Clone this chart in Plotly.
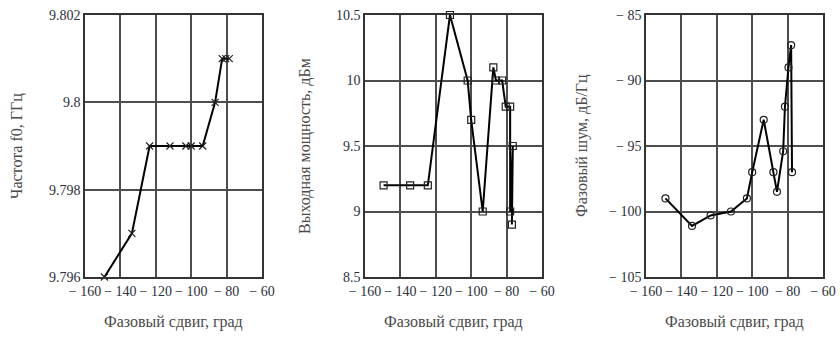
import plotly.graph_objects as go

# ---- data ----
phase_freq = [-149, -133.5, -123.5, -112, -103, -100, -93.5, -86.5, -82.5, -80.5, -78.5]
freq_ghz = [9.796, 9.797, 9.799, 9.799, 9.799, 9.799, 9.799, 9.800, 9.801, 9.801, 9.801]

phase_pow = [-149.5, -134.5, -124.5, -112, -102, -100, -93.5, -87.5, -86, -82.5, -80.5, -78, -78, -76.5, -77]
power_dbm = [9.2, 9.2, 9.2, 10.5, 10.0, 9.7, 9.0, 10.1, 10.0, 10.0, 9.8, 9.8, 9.0, 9.5, 8.9]

phase_noise_x = [-149, -134, -123.5, -112, -103, -100, -93.5, -88, -86, -82.5, -81.5, -79.5, -78, -77.5]
phase_noise = [-99, -101.1, -100.3, -100, -99, -97, -93, -97, -98.5, -95.4, -92, -89, -87.3, -97]

x_ticks = [-160, -140, -120, -100, -80, -60]
x_ticktext = ["− 160", "− 140", "− 120", "− 100", "− 80", "− 60"]

y1_ticks = [9.796, 9.798, 9.8, 9.802]
y1_text = ["9.796", "9.798", "9.8", "9.802"]
y2_ticks = [8.5, 9, 9.5, 10, 10.5]
y2_text = ["8.5", "9", "9.5", "10", "10.5"]
y3_ticks = [-105, -100, -95, -90, -85]
y3_text = ["− 105", "− 100", "− 95", "− 90", "− 85"]

x_title = "Фазовый сдвиг, град"
y_titles = ["Частота f0, ГГц", "Выходная мощность, дБм", "Фазовый шум, дБ/Гц"]

# ---- figure ----
FONT = "'Liberation Serif', 'DejaVu Serif', serif"
TICKC = "#2a2f3a"
TITLEC = "#4a4a4a"
GRID = "#4d4d4d"

xdoms = [(85 / 840, 262 / 840), (365 / 840, 542 / 840), (646 / 840, 823 / 840)]
ydom = ((338 - 277) / 338, (338 - 15) / 338)

fig = go.Figure()

series = [
    (phase_freq, freq_ghz, "x-thin", 7),
    (phase_pow, power_dbm, "square-open", 7),
    (phase_noise_x, phase_noise, "circle-open", 7),
]
for i, (xs, ys, sym, sz) in enumerate(series):
    suffix = "" if i == 0 else str(i + 1)
    fig.add_trace(go.Scatter(
        x=xs, y=ys, mode="lines+markers",
        xaxis="x" + suffix, yaxis="y" + suffix,
        line=dict(color="black", width=2),
        marker=dict(symbol=sym, size=sz, color="#222222",
                    line=dict(width=1.2, color="#222222")),
        showlegend=False, cliponaxis=False,
    ))

yspecs = [
    ([9.796, 9.802], y1_ticks, y1_text),
    ([8.5, 10.5], y2_ticks, y2_text),
    ([-105, -85], y3_ticks, y3_text),
]

layout = dict(
    width=840, height=338,
    margin=dict(l=0, r=0, t=0, b=0, autoexpand=False),
    paper_bgcolor="white", plot_bgcolor="white",
    font=dict(family=FONT, size=14, color=TICKC),
)
for i in range(3):
    suffix = "" if i == 0 else str(i + 1)
    rng, tv, tt = yspecs[i]
    layout["xaxis" + suffix] = dict(
        domain=list(xdoms[i]), range=[-160, -60],
        anchor="y" + suffix,
        tickvals=x_ticks, ticktext=x_ticktext, ticks="", tickangle=0,
        showgrid=False, zeroline=False, automargin=False,
        showline=True, linecolor="#333333", linewidth=1.5, mirror=True,
        minor=dict(tickvals=[-140, -120, -100, -80], showgrid=True,
                   gridcolor=GRID, gridwidth=1.5, ticks=""),
        tickfont=dict(family=FONT, size=14, color=TICKC),
        ticklabelstandoff=0,
    )
    layout["yaxis" + suffix] = dict(
        domain=list(ydom), range=rng,
        anchor="x" + suffix,
        tickvals=tv, ticktext=tt, ticks="", tickangle=0,
        showgrid=False, zeroline=False, automargin=False,
        showline=True, linecolor="#333333", linewidth=1.5, mirror=True,
        minor=dict(tickvals=tv[1:-1], showgrid=True,
                   gridcolor=GRID, gridwidth=1.5, ticks=""),
        tickfont=dict(family=FONT, size=14, color=TICKC),
        ticklabelstandoff=0,
    )

annotations = []
ytitle_x = [17 / 840, 305 / 840, 582 / 840]
for i in range(3):
    annotations.append(dict(
        text=x_title, xref="paper", yref="paper",
        x=(xdoms[i][0] + xdoms[i][1]) / 2, y=(338 - 322) / 338,
        showarrow=False, font=dict(family=FONT, size=16, color=TITLEC),
        xanchor="center", yanchor="middle",
    ))
    annotations.append(dict(
        text=y_titles[i], xref="paper", yref="paper",
        x=ytitle_x[i], y=(338 - 146) / 338, textangle=-90,
        showarrow=False, font=dict(family=FONT, size=16, color=TITLEC),
        xanchor="center", yanchor="middle",
    ))
layout["annotations"] = annotations

fig.update_layout(**layout)
fig.write_html("out.html")
